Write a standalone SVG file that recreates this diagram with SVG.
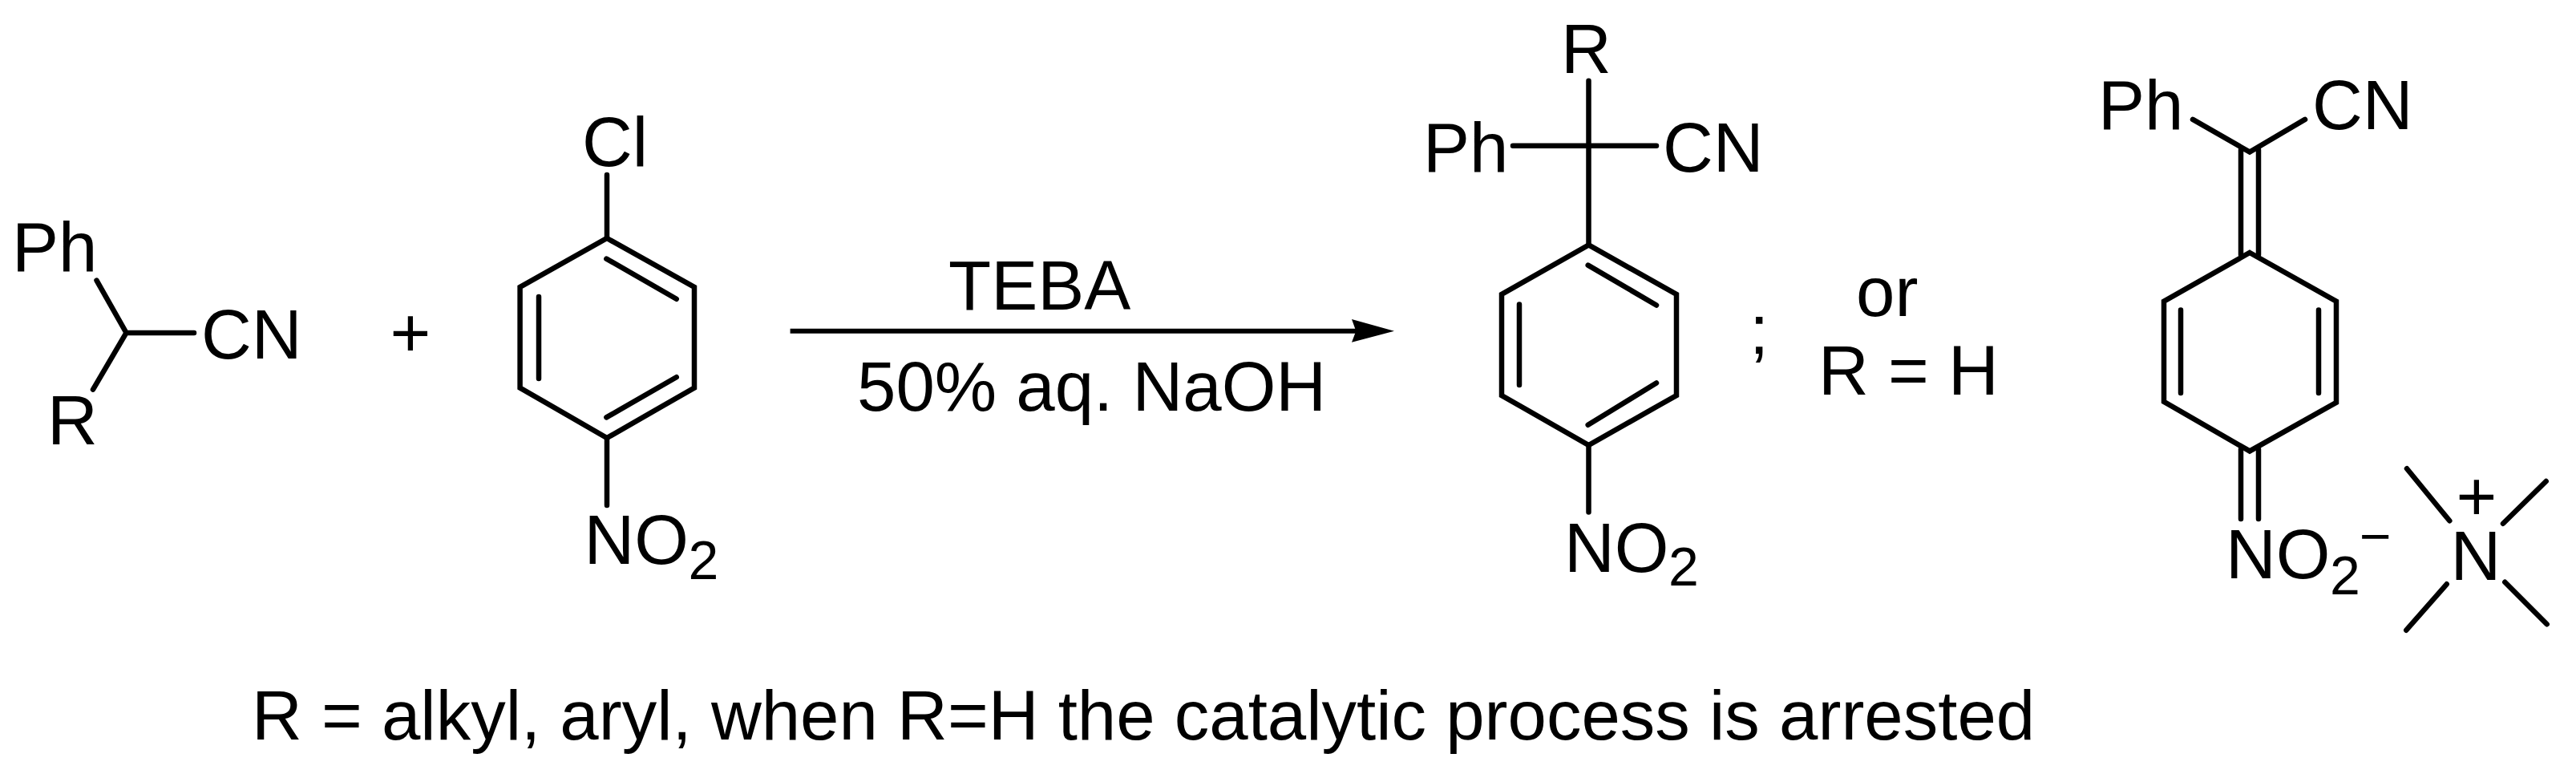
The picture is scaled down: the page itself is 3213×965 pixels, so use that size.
<svg xmlns="http://www.w3.org/2000/svg" width="3213" height="965" viewBox="0 0 3213 965">
<style>
text{font-family:"Liberation Sans",Arial,sans-serif;font-size:87px;fill:#000}
.sub{font-size:68px}
.b{fill:none;stroke:#000;stroke-width:6.5;stroke-linecap:round;stroke-linejoin:miter}
.a{fill:none;stroke:#000;stroke-width:6}
</style>
<defs>
<marker id="head" markerUnits="userSpaceOnUse" markerWidth="54" markerHeight="30" refX="8" refY="14.7" orient="auto">
<path d="M53 14.7L0 0L5.3 14.7L0 28.7Z" fill="#000"/>
</marker>
</defs>
<rect width="3213" height="965" fill="#fff"/>
<g id="reactant-nitrile">
<path class="b" d="M120.5 349.6L157.5 415L116 485.6M157.5 415H242"/>
<text x="15" y="338">Ph</text>
<text x="59" y="554">R</text>
<text x="251" y="447">CN</text>
</g>
<g id="plus"><text x="486.5" y="445">+</text></g>
<g id="reactant-chloronitrobenzene">
<path class="b" d="M757 297L866 358V483.5L757 546L648.6 483.5V358Z"/>
<path class="b" d="M756.4 322.6L843.7 372.8M672 370V472M756.4 520.4L843.7 470.2M757 218V297M757 546V630"/>
<text x="726" y="207">Cl</text>
<text x="728.5" y="703">NO</text>
<text class="sub" x="858.5" y="722">2</text>
</g>
<g id="connectors">
<path class="a" d="M985.6 412.7H1694" marker-end="url(#head)"/>
</g>
<g id="reaction-conditions">
<text x="1183" y="386">TEBA</text>
<text x="1069" y="512.4">50% aq. NaOH</text>
</g>
<g id="product-arylated">
<path class="b" d="M1981.5 305.4L2091 367V493L1981.5 555L1873 493V367Z"/>
<path class="b" d="M1980.7 330.6L2066 380.5M1895 379.5V480M1980.7 529.8L2066 477.5M1981.5 100.8V305.4M1887 181.8H2066M1981.5 555V638.4"/>
<text x="1947" y="90.6">R</text>
<text x="1775" y="214">Ph</text>
<text x="2074" y="214">CN</text>
<text x="1951" y="712.5">NO</text>
<text class="sub" x="2081" y="730">2</text>
</g>
<g id="separator"><text x="2182" y="441">;</text></g>
<g id="condition-or">
<text x="2315" y="394">or</text>
<text x="2268" y="492">R = H</text>
</g>
<g id="product-salt">
<path class="b" d="M2735 148.9L2806 189.6L2875 148.9M2795 186.7V317.6M2817 186.7V317.6"/>
<path class="b" d="M2806 315L2914 375.7V501.8L2806 562.4L2699 500.8V375.7Z"/>
<path class="b" d="M2720 386.4V490M2892 386.4V490M2795 560V647M2817 560V647"/>
<text x="2617" y="160.5">Ph</text>
<text x="2884" y="160.5">CN</text>
<text x="2776" y="720.7">NO</text>
<text class="sub" x="2906" y="740.7">2</text>
<text class="sub" x="2943" y="692">−</text>
</g>
<g id="tetramethylammonium">
<path class="b" d="M3002 584.3L3055.3 649.3M3175.7 600L3122 652.7M3051.7 728.3L3001.3 785.7M3124.3 725.7L3176.7 778.3"/>
<text x="3056.5" y="722.7">N</text>
<text x="3063.5" y="648.5">+</text>
</g>
<g id="footnote"><text x="314" y="922">R = alkyl, aryl, when R=H the catalytic process is arrested</text></g>
</svg>
